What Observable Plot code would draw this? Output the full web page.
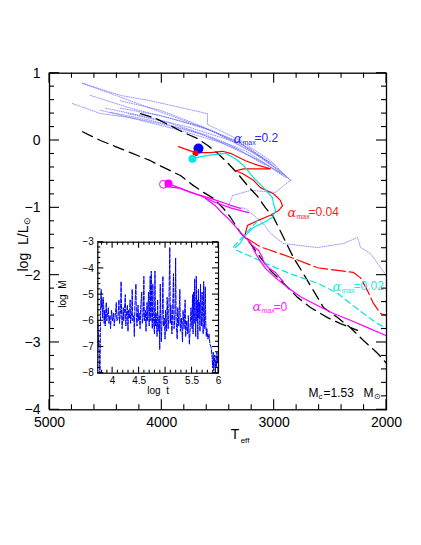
<!DOCTYPE html>
<html><head><meta charset="utf-8">
<script src="https://cdn.jsdelivr.net/npm/d3@7"></script>
<script src="https://cdn.jsdelivr.net/npm/@observablehq/plot@0.6"></script>
<style>
body{margin:0;background:#fff;}
#wrap{position:relative;width:421px;height:545px;overflow:hidden;}
#inset{position:absolute;left:50px;top:230px;}
</style></head><body><div id="wrap"><div id="main"></div><div id="inset"></div></div>
<script>
// ---------- ticks ----------
const X_MAJOR = [5000, 4000, 3000, 2000];
const X_MINOR = [4800, 4600, 4400, 4200, 3800, 3600, 3400, 3200, 2800, 2600, 2400, 2200];
const Y_MAJOR = [1, 0, -1, -2, -3, -4];
const Y_MINOR = [0.8, 0.6, 0.4, 0.2, -0.2, -0.4, -0.6, -0.8, -1.2, -1.4, -1.6, -1.8, -2.2, -2.4, -2.6, -2.8, -3.2, -3.4, -3.6, -3.8];
const X_LABELS = ["5000", "4000", "3000", "2000"];
const Y_LABELS = ["1", "0", "\u22121", "\u22122", "\u22123", "\u22124"];

const IX_MAJOR = [4, 4.5, 5, 5.5, 6];
const IX_MINOR = [3.8, 3.9, 4.1, 4.2, 4.3, 4.4, 4.6, 4.7, 4.8, 4.9, 5.1, 5.2, 5.3, 5.4, 5.6, 5.7, 5.8, 5.9];
const IX_LABELS = ["4", "4.5", "5", "5.5", "6"];
const IY_MAJOR = [-3, -4, -5, -6, -7, -8];
const IY_MINOR = [-3.2, -3.4, -3.6, -3.8, -4.2, -4.4, -4.6, -4.8, -5.2, -5.4, -5.6, -5.8, -6.2, -6.4, -6.6, -6.8, -7.2, -7.4, -7.6, -7.8];
const IY_LABELS = ["\u22123", "\u22124", "\u22125", "\u22126", "\u22127", "\u22128"];

// ---------- black dashed reference tracks ----------
const blackA_T = [4190,4056,3923,3807,3683,3594,3504,3415,3326,3237,3148,3077,3006,2917,2828,2739,2650,2561,2436,2321,2205,2080,2000];
const blackA_L = [0.40,0.33,0.22,0.12,0.03,-0.07,-0.19,-0.33,-0.49,-0.67,-0.83,-1.00,-1.14,-1.44,-1.74,-1.98,-2.23,-2.48,-2.63,-2.78,-2.97,-3.16,-3.31];
const blackB_T = [4706,4546,4412,4279,4101,3985,3834,3718,3629,3540,3451,3389,3300,3211,3122,3033,2917,2792,2677,2525,2410,2258];
const blackB_L = [0.13,0.00,-0.09,-0.18,-0.30,-0.40,-0.52,-0.67,-0.77,-0.86,-1.01,-1.14,-1.37,-1.53,-1.74,-1.93,-2.12,-2.33,-2.48,-2.63,-2.72,-2.82];

// ---------- alpha_max = 0.2 (dotted blue) ----------
const blue1_T = [4706,4368,4101,3834,3594,3594,3300,3033,2855];
const blue1_L = [0.85,0.67,0.59,0.49,0.40,0.24,0.00,-0.30,-0.59];
const blue2_T = [4795,4546,4279,4012,3656,3300,2944,2855];
const blue2_L = [0.55,0.40,0.34,0.25,0.10,-0.15,-0.48,-0.59];
const blue3_T = [4546,4190,3834,3478,3122,2899];
const blue3_L = [0.45,0.30,0.15,-0.03,-0.30,-0.55];
const blue4_T = [4501,4101,3745,3389,3033];
const blue4_L = [0.48,0.34,0.19,0.00,-0.33];
const blue5_T = [4706,4279,3923,3567,3211,2899];
const blue5_L = [0.85,0.59,0.37,0.15,-0.15,-0.52];
const blue6_T = [4368,4012,3656,3344,2988];
const blue6_L = [0.59,0.45,0.22,0.00,-0.37];
const blue7_T = [2855,2988,3211,3371,3407,3255,3104,3033,2917,2614,2383,2258,2231,2142,2000];
const blue7_L = [-0.59,-0.77,-0.74,-0.82,-0.97,-1.01,-1.22,-1.38,-1.53,-1.59,-1.53,-1.44,-1.59,-1.68,-2.01];
const blue8_T = [4635,4279,3923,3567,3211,2872];
const blue8_L = [0.67,0.48,0.33,0.15,-0.12,-0.56];
const blue9_T = [4457,4101,3745,3389,3077];
const blue9_L = [0.42,0.30,0.15,-0.07,-0.37];
const blue10_T = [4368,4012,3656,3300,2944];
const blue10_L = [0.48,0.37,0.21,-0.04,-0.45];
const blue11_T = [4300,3950,3600,3250,2930];
const blue11_L = [0.40,0.27,0.08,-0.16,-0.50];

// ---------- alpha_max = 0.04 (red) ----------
const redA_T = [3852,3700,3567,3460,3389,3255,3140,3033,3273,3344,3282,3184,3122,3006,2944,2926,2961,3033,3148,3237,3255,3264,3237];
const redA_L = [-0.09,-0.18,-0.18,-0.16,-0.19,-0.30,-0.37,-0.42,-0.42,-0.45,-0.49,-0.59,-0.70,-0.79,-0.89,-0.97,-1.04,-1.11,-1.19,-1.26,-1.37,-1.44,-1.46];
const redB_T = [3237,3122,3033,2828,2614,2436,2294,2231,2169,2116,2053,2000];
const redB_L = [-1.46,-1.58,-1.63,-1.75,-1.89,-1.93,-1.96,-2.04,-2.23,-2.42,-2.57,-2.60];

// ---------- alpha_max = 0.02 (cyan) ----------
const cyanA_T = [3727,3656,3540,3433,3344,3273,3184,3095,3015,3006,2988,3015,3095,3184,3237,3273,3300,3344];
const cyanA_L = [-0.27,-0.24,-0.21,-0.19,-0.27,-0.37,-0.55,-0.70,-0.85,-0.94,-1.04,-1.14,-1.22,-1.29,-1.38,-1.44,-1.52,-1.59];
const cyanB_T = [3148,3362,3335,3211,3059,2855,2614,2436,2321,2205,2080,2000];
const cyanB_L = [-1.19,-1.58,-1.63,-1.72,-1.84,-1.98,-2.12,-2.27,-2.42,-2.57,-2.72,-2.79];

// ---------- alpha_max = 0 (magenta) ----------
const magA_T = [3967,3834,3656,3522,3389,3228];
const magA_L = [-0.68,-0.71,-0.82,-0.92,-1.00,-1.07];
const magB_T = [3941,3745,3567,3407,3300];
const magB_L = [-0.64,-0.77,-0.86,-0.95,-1.01];
const magC_T = [3611,3522,3460,3407,3344,3282,3228,3193,3140,3104,3095,3050,2988,2944,2917];
const magC_L = [-0.86,-0.97,-1.08,-1.16,-1.28,-1.40,-1.49,-1.56,-1.63,-1.74,-1.81,-1.89,-1.96,-2.05,-2.10];
const magD_T = [3193,3140,3077,2988,2881,2766,2614,2472,2321,2169,2000];
const magD_L = [-1.59,-1.75,-1.90,-2.04,-2.18,-2.32,-2.45,-2.57,-2.67,-2.78,-2.90];

// ---------- starting points ----------
const start_T = {blue: 3674, cyan: 3727, red: 3700, magenta: 3941, ring: 3985};
const start_L = {blue: -0.12, cyan: -0.27, red: -0.19, magenta: -0.64, ring: -0.65};

// ---------- labels ----------
const lab_T = [3362, 2881, 2481, 3193];
const lab_L = [0.03, -1.07, -2.17, -2.47];
const lab_val = ["=0.2", "=0.04", "=0.02", "=0"];
const lab_col = ["#2a2aff", "#ff1a1a", "#22e8e8", "#ff22ff"];
const mc_T = 2694, mc_L = -3.76;

// ---------- inset: log t vs log Mdot ----------
const inset_t = [3.72,3.73,3.735,3.74,3.75,3.76,3.765,3.77,3.78,3.785,3.79,3.80,3.81,3.82,3.83,3.84,3.85,3.86,3.87,3.88,3.89,3.90,3.92,3.93,3.95,3.96,3.98,4.00,4.02,4.03,4.05,4.07,4.08,4.10,4.12,4.13,4.15,4.16,4.17,4.18,4.20,4.21,4.22,4.24,4.25,4.26,4.28,4.29,4.30,4.32,4.33,4.34,4.36,4.37,4.38,4.40,4.41,4.42,4.44,4.45,4.46,4.48,4.49,4.50,4.52,4.53,4.55,4.56,4.58,4.59,4.60,4.62,4.63,4.65,4.66,4.68,4.69,4.71,4.72,4.73,4.74,4.75,4.76,4.77,4.79,4.80,4.81,4.82,4.84,4.85,4.86,4.88,4.89,4.90,4.91,4.92,4.94,4.95,4.96,4.98,4.99,5.00,5.02,5.03,5.05,5.06,5.08,5.09,5.10,5.12,5.13,5.15,5.16,5.18,5.19,5.20,5.22,5.23,5.25,5.27,5.28,5.30,5.32,5.33,5.35,5.37,5.38,5.40,5.42,5.43,5.45,5.47,5.48,5.50,5.51,5.52,5.53,5.54,5.55,5.56,5.57,5.58,5.59,5.60,5.61,5.62,5.63,5.64,5.65,5.66,5.67,5.68,5.69,5.70,5.71,5.72,5.73,5.74,5.75,5.76,5.77,5.78,5.80,5.82,5.84,5.86,5.88,5.89,5.90,5.91,5.92,5.93,5.94,5.95,5.96,5.97,5.98,5.99,6.00];
const inset_m = [-6.0,-6.5,-7.0,-6.8,-7.5,-8.0,-7.2,-6.0,-5.0,-4.8,-5.5,-5.2,-5.9,-5.1,-5.4,-6.1,-5.6,-6.2,-5.7,-5.3,-6.0,-5.8,-5.5,-6.1,-5.8,-6.3,-5.6,-6.0,-5.7,-6.2,-5.8,-5.3,-6.0,-5.9,-5.2,-6.1,-5.6,-4.5,-5.8,-6.3,-5.5,-6.0,-5.7,-5.0,-6.2,-5.8,-5.4,-6.4,-5.6,-5.9,-5.2,-6.1,-5.7,-4.8,-6.0,-5.8,-6.6,-5.5,-4.6,-5.9,-6.2,-5.4,-6.0,-5.7,-6.3,-5.5,-4.9,-6.1,-5.8,-4.3,-6.0,-5.6,-6.4,-5.3,-6.0,-4.9,-6.2,-4.3,-6.0,-4.1,-5.8,-6.3,-4.6,-5.9,-6.5,-4.1,-6.2,-5.7,-6.6,-5.2,-6.4,-5.8,-7.1,-4.6,-6.0,-6.8,-5.5,-4.3,-6.2,-5.9,-6.7,-5.6,-6.4,-5.1,-6.3,-5.8,-3.2,-6.1,-5.4,-6.5,-5.9,-4.2,-6.3,-5.7,-3.6,-6.0,-6.7,-5.5,-6.2,-4.8,-6.4,-5.9,-6.8,-5.6,-6.3,-5.2,-6.6,-6.0,-6.5,-5.8,-6.9,-6.1,-5.5,-6.3,-5.0,-6.5,-4.9,-6.1,-4.4,-5.8,-6.6,-4.3,-6.0,-5.2,-6.7,-4.8,-5.9,-5.3,-6.4,-4.6,-5.8,-6.2,-4.9,-5.7,-6.5,-4.5,-5.6,-6.3,-4.7,-6.1,-6.6,-6.3,-6.7,-6.5,-6.9,-7.0,-7.4,-7.8,-7.2,-7.9,-7.6,-7.3,-8.0,-7.5,-7.8,-7.2,-7.6,-7.4,-7.7];

// ---------- helpers ----------
const zip = (T, L) => T.map((t, i) => ({T: t, L: L[i]}));
const FONT = "Liberation Sans, Arial, sans-serif";
const line = (T, L, o) => Plot.line(zip(T, L), {x: "T", y: "L", ...o});

// inward tick marks, positioned through the plot's own x / y scales
function addFrameTicks(svg, xd, yd, xMaj, xMin, yMaj, yMin, lMaj, lMin) {
  const sx = svg.scale("x"), sy = svg.scale("y");
  const X = v => sx.apply(v), Y = v => sy.apply(v);
  const xl = X(xd[0]), xr = X(xd[1]), yb = Y(yd[0]), yt = Y(yd[1]);
  const g = d3.select(svg).append("g").attr("class", "frame-ticks")
    .attr("stroke", "#000").attr("stroke-width", 1.1).attr("fill", "none");
  for (const [ts, len] of [[xMaj, lMaj], [xMin, lMin]]) for (const t of ts) {
    g.append("line").attr("x1", X(t)).attr("x2", X(t)).attr("y1", yb).attr("y2", yb - len);
    g.append("line").attr("x1", X(t)).attr("x2", X(t)).attr("y1", yt).attr("y2", yt + len);
  }
  for (const [ts, len] of [[yMaj, lMaj], [yMin, lMin]]) for (const t of ts) {
    g.append("line").attr("y1", Y(t)).attr("y2", Y(t)).attr("x1", xl).attr("x2", xl + len);
    g.append("line").attr("y1", Y(t)).attr("y2", Y(t)).attr("x1", xr).attr("x2", xr - len);
  }
}

const black = {stroke: "black", strokeWidth: 1.3, strokeDasharray: "11,6"};
const lav = {stroke: "#5c5cff", strokeWidth: 0.8, strokeDasharray: "1,1.3", strokeOpacity: 0.8};
const red = {stroke: "#ff0000", strokeWidth: 1.2};
const cyan = {stroke: "#00e5e5", strokeWidth: 1.2};
const mag = {stroke: "#ff00ff", strokeWidth: 1.2};
const labs = lab_T.map((t, i) => ({T: t, L: lab_L[i], v: lab_val[i], c: lab_col[i]}));
const one = [0];

const XD = [5000, 2000], YD = [-4, 1];

const main = Plot.plot({
  width: 421, height: 545,
  marginLeft: 49, marginRight: 35, marginTop: 72.7, marginBottom: 135.7,
  x: {domain: XD},
  y: {domain: YD},
  style: {fontFamily: FONT, background: "transparent", overflow: "visible"},
  marks: [
    // tracks
    line(blue1_T, blue1_L, lav), line(blue2_T, blue2_L, lav), line(blue3_T, blue3_L, lav),
    line(blue4_T, blue4_L, lav), line(blue5_T, blue5_L, lav), line(blue6_T, blue6_L, lav),
    line(blue7_T, blue7_L, lav), line(blue8_T, blue8_L, lav), line(blue9_T, blue9_L, lav),
    line(blue10_T, blue10_L, lav), line(blue11_T, blue11_L, lav),
    line(blackB_T, blackB_L, black),
    line(blackA_T, blackA_L, black),
    line(redA_T, redA_L, red),
    line(redB_T, redB_L, {...red, strokeDasharray: "14,4"}),
    line(cyanA_T, cyanA_L, cyan),
    line(cyanB_T, cyanB_L, {...cyan, strokeDasharray: "6,4"}),
    line(magA_T, magA_L, mag), line(magB_T, magB_L, mag),
    line(magC_T, magC_L, mag), line(magD_T, magD_L, mag),
    // starting points
    Plot.dot(one, {x: () => start_T.ring, y: () => start_L.ring, r: 4, stroke: "#ff00ff", strokeWidth: 1}),
    Plot.dot(one, {x: () => start_T.blue, y: () => start_L.blue, r: 5, fill: "#0000ff"}),
    Plot.dot(one, {x: () => start_T.red, y: () => start_L.red, r: 3, fill: "#ff0000"}),
    Plot.dot(one, {x: () => start_T.cyan, y: () => start_L.cyan, r: 4, fill: "#00e5e5"}),
    Plot.dot(one, {x: () => start_T.magenta, y: () => start_L.magenta, r: 4, fill: "#ff00ff"}),
    // alpha labels
    Plot.text(labs, {x: "T", y: "L", text: () => "\u03b1", fill: "c", textAnchor: "start", fontSize: 13, fontStyle: "italic", fontFamily: "DejaVu Serif"}),
    Plot.text(labs, {x: "T", y: "L", text: () => "max", fill: "c", textAnchor: "start", fontSize: 7, dx: 9, dy: 4}),
    Plot.text(labs, {x: "T", y: "L", text: "v", fill: "c", textAnchor: "start", fontSize: 12, dx: 21}),
    // Mc label
    Plot.text(one, {x: () => mc_T, y: () => mc_L, text: () => "M", textAnchor: "start", fontSize: 12}),
    Plot.text(one, {x: () => mc_T, y: () => mc_L, text: () => "c", textAnchor: "start", fontSize: 8, dx: 10, dy: 3}),
    Plot.text(one, {x: () => mc_T, y: () => mc_L, text: () => "=1.53", textAnchor: "start", fontSize: 12, dx: 15}),
    Plot.text(one, {x: () => mc_T, y: () => mc_L, text: () => "M", textAnchor: "start", fontSize: 12, dx: 55}),
    Plot.text(one, {x: () => mc_T, y: () => mc_L, text: () => "\u2299", textAnchor: "start", fontSize: 8, dx: 65, dy: 3}),
    // tick labels
    Plot.axisX(X_MAJOR, {anchor: "bottom", tickSize: 0, tickPadding: 7, fontSize: 14, tickFormat: (d) => X_LABELS[X_MAJOR.indexOf(d)], label: null}),
    Plot.axisY(Y_MAJOR, {anchor: "left", tickSize: 0, tickPadding: 9, fontSize: 14, tickFormat: (d) => Y_LABELS[Y_MAJOR.indexOf(d)], label: null}),
    Plot.frame({stroke: "black", strokeWidth: 1.3}),
    // axis titles
    Plot.text(["T"], {frameAnchor: "bottom", text: d => d, fontSize: 14, dx: 17, dy: 29}),
    Plot.text(["eff"], {frameAnchor: "bottom", text: d => d, fontSize: 8, dx: 27, dy: 33}),
    Plot.text(["log  L/L"], {frameAnchor: "left", text: d => d, fontSize: 14, rotate: -90, textAnchor: "start", dx: -26, dy: 30}),
    Plot.text(["\u2299"], {frameAnchor: "left", text: d => d, fontSize: 9, rotate: -90, textAnchor: "start", dx: -22, dy: -17})
  ]
});
addFrameTicks(main, XD, YD, X_MAJOR, X_MINOR, Y_MAJOR, Y_MINOR, 10, 5);
document.getElementById("main").appendChild(main);

const IXD = [3.72, 6], IYD = [-8, -3];

const inset = Plot.plot({
  width: 175, height: 175,
  marginLeft: 47.3, marginRight: 7, marginTop: 11.7, marginBottom: 32.3,
  x: {domain: IXD},
  y: {domain: IYD},
  style: {fontFamily: FONT, background: "transparent", overflow: "visible"},
  marks: [
    Plot.frame({fill: "white", stroke: "none"}),
    Plot.line(zip(inset_t, inset_m), {x: "T", y: "L", stroke: "#0000ff", strokeWidth: 1, strokeDasharray: "4,1.5", clip: true}),
    Plot.axisX(IX_MAJOR, {anchor: "bottom", tickSize: 0, tickPadding: 4, fontSize: 10, tickFormat: d => IX_LABELS[IX_MAJOR.indexOf(d)], label: null}),
    Plot.axisY(IY_MAJOR, {anchor: "left", tickSize: 0, tickPadding: 4, fontSize: 10, tickFormat: d => IY_LABELS[IY_MAJOR.indexOf(d)], label: null}),
    Plot.frame({stroke: "black", strokeWidth: 1.2}),
    Plot.text(["log  t"], {frameAnchor: "bottom", text: d => d, fontSize: 10, dy: 21}),
    Plot.text(["log  \u1e40"], {frameAnchor: "left", text: d => d, fontSize: 10, rotate: -90, dx: -35})
  ]
});
addFrameTicks(inset, IXD, IYD, IX_MAJOR, IX_MINOR, IY_MAJOR, IY_MINOR, 6, 3);
document.getElementById("inset").appendChild(inset);
</script></body></html>
